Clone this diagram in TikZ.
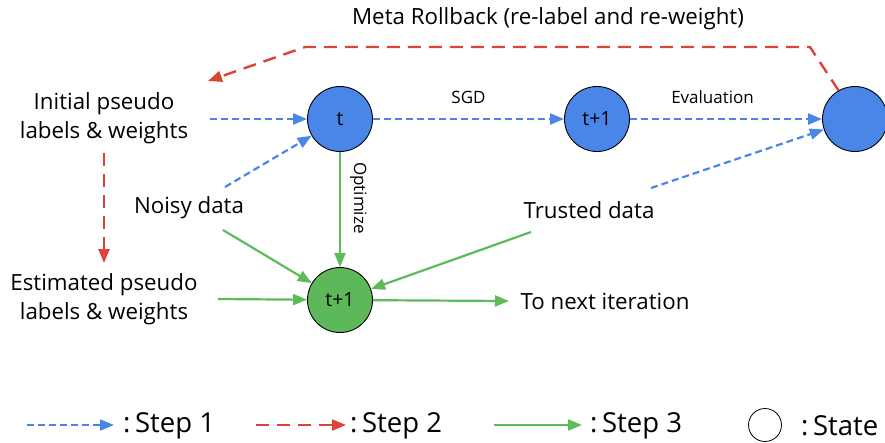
\documentclass[tikz,border=0pt]{standalone}
\usepackage{fontspec}
\setmainfont{Open Sans}
\usetikzlibrary{arrows.meta}
\definecolor{stepblue}{HTML}{4A86E8}
\definecolor{stepred}{HTML}{DB4437}
\definecolor{stepgreen}{HTML}{5DBB5A}
\definecolor{fillblue}{HTML}{4A86E8}
\definecolor{fillgreen}{HTML}{5DB85A}
\tikzset{
  state/.style={circle, draw=black, line width=0.9pt, minimum size=65pt, inner sep=0pt, font=\fontsize{19.5}{21}\selectfont},
  bluestate/.style={state, fill=fillblue},
  greenstate/.style={state, fill=fillgreen},
  lbl/.style={align=center, font=\fontsize{22.3}{29}\selectfont, inner sep=0pt},
  small/.style={font=\fontsize{17}{19}\selectfont, inner sep=0pt},
  tip/.style={-{Triangle[length=14pt,width=11pt]}},
  stepone/.style={draw=stepblue, line width=2.2pt, dash pattern=on 7pt off 4pt, tip},
  steptwo/.style={draw=stepred, line width=2.4pt, dash pattern=on 13pt off 8pt, tip},
  stepthree/.style={draw=stepgreen, line width=2.2pt, tip},
  legend/.style={font=\fontsize{27.5}{30}\selectfont, anchor=west, inner sep=0pt}
}
\begin{document}
\begin{tikzpicture}[x=1pt, y=-1pt]
\clip (0,0) rectangle (885,442);

% states
\node[bluestate] (t) at (340,119) {t};
\node[bluestate] (t1) at (597,119) {t+1};
\node[bluestate] (rc) at (855,119) {};
\node[greenstate] (g) at (340,300) {t+1};

% text blocks
\node[lbl] (init) at (104,118) {Initial pseudo\\labels \& weights};
\node[lbl] (est) at (104,299) {Estimated pseudo\\labels \& weights};
\node[lbl] (noisy) at (189,208) {Noisy data};
\node[lbl] (trusted) at (589,210) {Trusted data};
\node[lbl] (next) at (605,301) {To next iteration};
\node[lbl] (meta) at (548,19) {Meta Rollback (re-label and re-weight)};

% free ends of connectors
\coordinate (initout) at (210,119);
\coordinate (noisyout) at (225,187);
\coordinate (trustout) at (651,188);
\coordinate (initdown) at (104,153);
\coordinate (estin) at (104,263);
\coordinate (estout) at (218,299);
\coordinate (noisygreen) at (223,230);
\coordinate (trustgreen) at (531,232);
\coordinate (nextin) at (509,301);
\coordinate (mb1) at (810,47);
\coordinate (mb2) at (305,47);
\coordinate (mbend) at (208,81);

% step 1
\draw[stepone] (initout) -- (t);
\draw[stepone] (noisyout) -- (t);
\draw[stepone] (t) -- node[small, above=14pt] {SGD} (t1);
\draw[stepone] (t1) -- node[small, pos=0.43, above=14pt] {Evaluation} (rc);
\draw[stepone] (trustout) -- (rc);

% step 2
\draw[steptwo] (rc.120) -- (mb1) -- (mb2) -- (mbend);
\draw[steptwo] (initdown) -- (estin);

% step 3
\draw[stepthree] (t) -- node[small, pos=0.4, anchor=south, rotate=-90, inner sep=9pt] {Optimize} (g);
\draw[stepthree] (estout) -- (g);
\draw[stepthree] (noisygreen) -- (g);
\draw[stepthree] (trustgreen) -- (g);
\draw[stepthree] (g) -- (nextin);

% legend
\coordinate (l1a) at (27,425);  \coordinate (l1b) at (114,425);
\coordinate (l2a) at (256,425); \coordinate (l2b) at (346,425);
\coordinate (l3a) at (494,425); \coordinate (l3b) at (582,425);
\draw[stepone] (l1a) -- (l1b);
\draw[steptwo] (l2a) -- (l2b);
\draw[stepthree] (l3a) -- (l3b);
\node[legend] (k1) at (123,426) {:\,Step 1};
\node[legend] (k2) at (350,426) {:\,Step 2};
\node[legend] (k3) at (590,426) {:\,Step 3};
\node[circle, draw=black, line width=0.8pt, minimum size=33pt, inner sep=0pt] (ks) at (765,425) {};
\node[legend] (k4) at (801,426) {:\,State};
\end{tikzpicture}
\end{document}
